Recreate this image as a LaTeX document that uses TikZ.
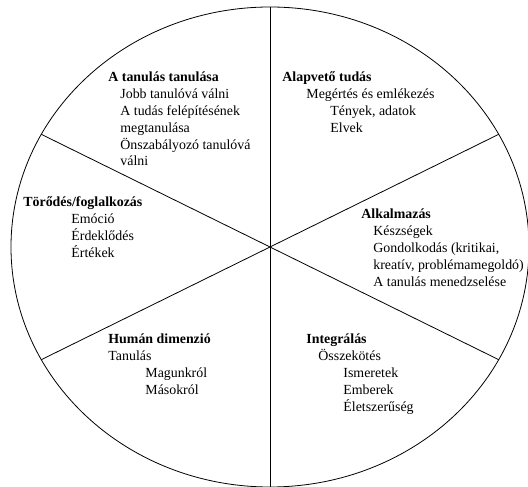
\documentclass[tikz,border=0pt]{standalone}
\usepackage{fontspec}
\setmainfont{Liberation Serif}
\begin{document}
\begin{tikzpicture}[x=1pt,y=1pt,line width=0.8pt,
	sector/.style={anchor=north west,inner sep=0pt,align=left,
		font=\fontsize{13.9}{16.8}\selectfont}]
	\useasboundingbox (0,0) rectangle (528,487);
	% wheel
	\coordinate (c) at (270,240);
	\coordinate (top) at (270,480);
	\coordinate (bot) at (270,0);
	\coordinate (ur) at ([shift={(28:259 and 240)}]c);
	\coordinate (ll) at ([shift={(208:259 and 240)}]c);
	\coordinate (ul) at ([shift={(152:259 and 240)}]c);
	\coordinate (lr) at ([shift={(-28:259 and 240)}]c);
	\draw (c) ellipse [x radius=259, y radius=240];
	\draw (top) -- (bot);
	\draw (ul) -- (lr);
	\draw (ur) -- (ll);
	% sectors
	\node[sector] (learn) at (108,417.3) {\strut\textbf{A tanulás tanulása}\\
		\hspace*{12pt}Jobb tanulóvá válni\\
		\hspace*{12pt}A tudás felépítésének\\
		\hspace*{12pt}megtanulása\\
		\hspace*{12pt}Önszabályozó tanulóvá\\
		\hspace*{12pt}válni};
	\node[sector] (found) at (282,417.3) {\strut\textbf{Alapvető tudás}\\
		\hspace*{24pt}Megértés és emlékezés\\
		\hspace*{48pt}Tények, adatok\\
		\hspace*{48pt}Elvek};
	\node[sector] (care) at (23,292.3) {\strut\textbf{Törődés/foglalkozás}\\
		\hspace*{48pt}Emóció\\
		\hspace*{48pt}Érdeklődés\\
		\hspace*{48pt}Értékek};
	\node[sector] (apply) at (361,280.3) {\strut\textbf{Alkalmazás}\\
		\hspace*{12pt}Készségek\\
		\hspace*{12pt}Gondolkodás (kritikai,\\
		\hspace*{12pt}kreatív, problémamegoldó)\\
		\hspace*{12pt}A tanulás menedzselése};
	\node[sector] (human) at (108,155.3) {\strut\textbf{Humán dimenzió}\\
		Tanulás\\
		\hspace*{37pt}Magunkról\\
		\hspace*{37pt}Másokról};
	\node[sector] (integ) at (306,155.3) {\strut\textbf{Integrálás}\\
		\hspace*{12pt}Összekötés\\
		\hspace*{37pt}Ismeretek\\
		\hspace*{37pt}Emberek\\
		\hspace*{37pt}Életszerűség};
\end{tikzpicture}
\end{document}
